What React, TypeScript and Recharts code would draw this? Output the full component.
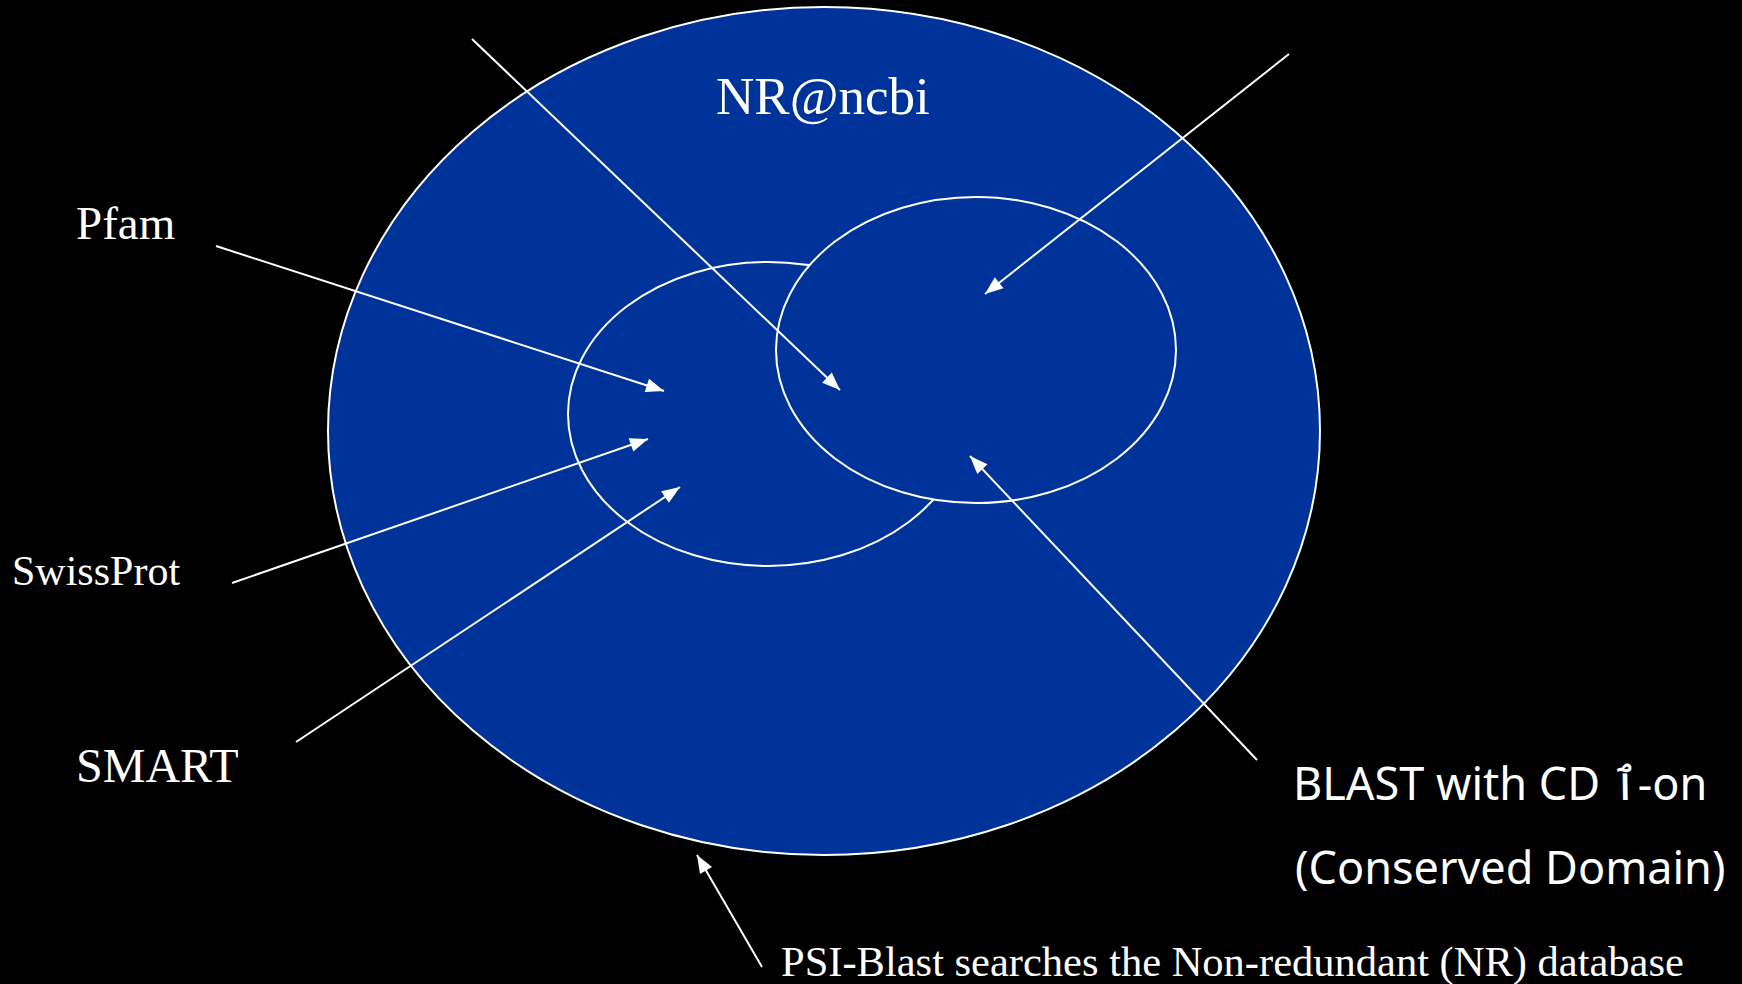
import React from 'react';
import { ScatterChart, Scatter, XAxis, YAxis } from 'recharts';

const W = 1742;
const H = 984;

document.body.style.margin = '0';
document.body.style.background = '#000';

// circles of the diagram: centre and radii, in page units (y counts down)
const ellipses = [
  { name: 'NR', x: 824, y: 431, rx: 496, ry: 424 },
  { name: 'left', x: 768, y: 414, rx: 200, ry: 152 },
  { name: 'right', x: 976, y: 350, rx: 200, ry: 153 },
];

// arrows: tail -> head
const arrows = [
  { name: 'Pfam', from: [216, 246], to: [664, 391] },
  { name: 'SwissProt', from: [232, 583], to: [648, 439] },
  { name: 'SMART', from: [296, 742], to: [680, 487] },
  { name: 'topLeft', from: [472, 39], to: [840, 390] },
  { name: 'topRight', from: [1289, 54], to: [985, 294] },
  { name: 'BLAST', from: [1257, 760], to: [970, 456] },
  { name: 'PSI', from: [762, 967], to: [697, 855] },
];

// text labels: left edge, baseline
const labels = [
  { text: 'NR@ncbi', x: 716, y: 114 },
  { text: 'Pfam', x: 76, y: 239 },
  { text: 'SwissProt', x: 12, y: 585 },
  { text: 'SMART', x: 76, y: 782 },
  { text: 'BLAST with CD ٱ-on', x: 1293, y: 800 },
  { text: '(Conserved Domain)', x: 1295, y: 884 },
  { text: 'PSI-Blast searches the Non-redundant (NR) database', x: 781, y: 976 },
];

const SERIF = '"Liberation Serif", "Times New Roman", serif';
const SANS = '"Noto Sans", "DejaVu Sans", sans-serif';

const labelFont: Record<string, { size: number; family: string }> = {
  'NR@ncbi': { size: 53, family: SERIF },
  Pfam: { size: 47, family: SERIF },
  SwissProt: { size: 42, family: SERIF },
  SMART: { size: 48, family: SERIF },
  'BLAST with CD ٱ-on': { size: 45, family: SANS },
  '(Conserved Domain)': { size: 45, family: SANS },
  'PSI-Blast searches the Non-redundant (NR) database': { size: 42.5, family: SERIF },
};

const BLUE = '#003399';
const WHITE = '#ffffff';

// one data unit is one pixel (axes hidden, no margin)
const KX = 1;
const KY = 1;

const EllipseShape = (props: any) => {
  const { cx, cy, payload } = props;
  return (
    <ellipse
      cx={cx}
      cy={cy}
      rx={payload.rx * KX}
      ry={payload.ry * KY}
      fill={BLUE}
      stroke={WHITE}
      strokeWidth={2}
    />
  );
};

const HeadShape = (props: any) => {
  const { cx, cy, payload } = props;
  if (!payload.head) return <g />;
  const dx = (payload.x - payload.fx) * KX;
  const dy = (payload.y - payload.fy) * KY;
  const len = Math.hypot(dx, dy) || 1;
  const ux = dx / len;
  const uy = dy / len;
  const L = 18;
  const hw = 7;
  const bx = cx - ux * L;
  const by = cy - uy * L;
  const pts = [
    [cx, cy],
    [bx - uy * hw, by + ux * hw],
    [bx + uy * hw, by - ux * hw],
  ]
    .map((p) => p.join(','))
    .join(' ');
  return <polygon points={pts} fill={WHITE} />;
};

const LabelShape = (props: any) => {
  const { cx, cy, payload } = props;
  const f = labelFont[payload.text];
  return (
    <text x={cx} y={cy} fill={WHITE} fontSize={f.size} fontFamily={f.family} textAnchor="start">
      {payload.text}
    </text>
  );
};

export default function App() {
  return (
    <div style={{ width: W, height: H, background: '#000' }}>
      <ScatterChart width={W} height={H} margin={{ top: 0, right: 0, bottom: 0, left: 0 }}>
        <XAxis type="number" dataKey="x" domain={[0, W]} hide allowDataOverflow />
        <YAxis type="number" dataKey="y" domain={[0, H]} reversed hide allowDataOverflow />
        {ellipses.map((e) => (
          <Scatter
            key={e.name}
            data={[e]}
            shape={EllipseShape}
            isAnimationActive={false}
            legendType="none"
          />
        ))}
        {arrows.map((a) => (
          <Scatter
            key={a.name}
            data={[
              { x: a.from[0], y: a.from[1] },
              { x: a.to[0], y: a.to[1], head: true, fx: a.from[0], fy: a.from[1] },
            ]}
            line={{ stroke: WHITE, strokeWidth: 2 }}
            stroke={WHITE}
            strokeWidth={2}
            shape={HeadShape}
            isAnimationActive={false}
            legendType="none"
          />
        ))}
        <Scatter
          data={labels}
          shape={LabelShape}
          isAnimationActive={false}
          legendType="none"
        />
      </ScatterChart>
    </div>
  );
}
